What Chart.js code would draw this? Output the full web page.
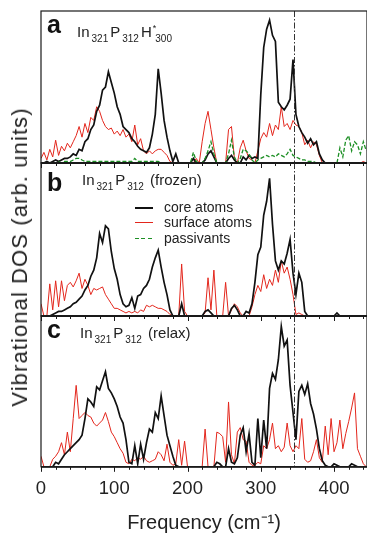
<!DOCTYPE html>
<html>
<head>
<meta charset="utf-8">
<title>Vibrational DOS</title>
<script src="https://cdn.jsdelivr.net/npm/chart.js@4.4.1/dist/chart.umd.min.js"></script>
<style>
  body { margin: 0; background: #fff; }
  #wrap { position: relative; width: 367px; height: 536px; overflow: hidden;
          font-family: "Liberation Sans", Arial, sans-serif; color: #222; }
  #wrap canvas { position: absolute; left: 0; top: 0; }
  .tag { position: absolute; font-size: 25px; font-weight: bold; line-height: 1; color: #111; }
  .ttl { position: absolute; font-size: 15px; line-height: 1; white-space: nowrap; }
  .ttl sub { font-size: 10px; vertical-align: -5px; margin: 0 2px 0 2px; }
  .ttl sup { font-size: 9px; vertical-align: 6px; margin-left: 1px; }
  .ttl sup + sub { margin-left: -1px; }
  .leg { position: absolute; left: 135px; font-size: 14px; line-height: 16px; white-space: nowrap; }
  .leg span { position: absolute; left: 0; top: 8px; width: 18px; }
  .leg b { font-weight: normal; margin-left: 29px; }
  #ytitle { position: absolute; left: 20px; top: 257px; font-size: 22px; letter-spacing: 1.1px;
            white-space: nowrap; transform: translate(-50%, -50%) rotate(-90deg); }
</style>
</head>
<body>
<div id="wrap">
  <canvas id="panelA" width="367" height="536"></canvas>
  <canvas id="panelB" width="367" height="536"></canvas>
  <canvas id="panelC" width="367" height="536"></canvas>

  <div class="tag" style="left:47px; top:12px">a</div>
  <div class="ttl" style="left:77px; top:24px">In<sub>321</sub>P<sub>312</sub>H<sup>*</sup><sub>300</sub></div>

  <div class="tag" style="left:47px; top:170px">b</div>
  <div class="ttl" style="left:82px; top:172px">In<sub>321</sub>P<sub>312</sub> (frozen)</div>
  <div class="leg" style="top:199px"><span style="height:2px; background:#111"></span><b>core atoms</b></div>
  <div class="leg" style="top:214px"><span style="height:1px; background:#e3261c"></span><b>surface atoms</b></div>
  <div class="leg" style="top:230px"><span style="height:1px; background:repeating-linear-gradient(90deg, #1d8f25 0 4px, transparent 4px 6.5px)"></span><b>passivants</b></div>

  <div class="tag" style="left:47px; top:317px">c</div>
  <div class="ttl" style="left:80px; top:325px">In<sub>321</sub>P<sub>312</sub> (relax)</div>

  <div id="ytitle">Vibrational DOS (arb. units)</div>
</div>

<script>
// frequency grid (cm-1)
const freq = [
  0, 4, 8, 12, 16, 20, 24, 28, 32, 36,
  40, 44, 48, 52, 56, 60, 64, 68, 72, 76,
  80, 84, 88, 92, 96, 100, 104, 108, 112, 116,
  120, 124, 128, 132, 136, 140, 144, 148, 152, 156,
  160, 164, 168, 172, 176, 180, 184, 188, 192, 196,
  200, 204, 208, 212, 216, 220, 224, 228, 232, 236,
  240, 244, 248, 252, 256, 260, 264, 268, 272, 276,
  280, 284, 288, 292, 296, 300, 304, 308, 312, 316,
  320, 324, 328, 332, 336, 340, 344, 348, 352, 356,
  360, 364, 368, 372, 376, 380, 384, 388, 392, 396,
  400, 404, 408, 412, 416, 420, 424, 428, 432, 436,
  440, 444
];

// panel a: In321P312H*300
const coreA = [
  0, 0, 1, 0, 1, 2, 1, 2, 3, 3,
  4, 6, 5, 9, 8, 14, 16, 22, 25, 34,
  38, 48, 50, 60, 53, 46, 37, 32, 24, 22,
  20, 16, 14, 11, 9, 8, 7, 10, 19, 32,
  62, 46, 28, 17, 8, 1, 6, 0, 0, 0,
  0, 0, 3, 0, 0, 0, 2, 6, 8, 4,
  0, 0, 0, 0, 3, 5, 2, 0, 0, 4,
  2, 5, 3, 4, 3, 45, 76, 88, 94, 84,
  80, 40, 37, 35, 38, 42, 68, 32, 24, 20,
  17, 13, 16, 12, 14, 6, 2, 0, 0, 0,
  0, 0, 0, 0, 0, 0, 0, 0, 0, 0,
  0, 0
];
const surfA = [
  3, 7, 2, 9, 4, 15, 5, 11, 8, 13,
  10, 14, 18, 24, 17, 26, 20, 30, 28, 37,
  34, 28, 24, 22, 23, 19, 21, 18, 22, 17,
  19, 14, 25, 12, 16, 8, 6, 8, 6, 8,
  9, 9, 7, 5, 1, 0, 0, 0, 0, 0,
  0, 0, 0, 3, 0, 14, 26, 34, 22, 10,
  0, 0, 0, 0, 22, 24, 3, 0, 10, 15,
  8, 3, 2, 0, 8, 16, 20, 17, 26, 18,
  25, 22, 37, 24, 26, 22, 28, 25, 24, 20,
  12, 15, 10, 14, 12, 5, 0, 0, 0, 0,
  0, 0, 0, 0, 0, 0, 0, 0, 0, 0,
  1, 0
];
const passA = [
  0, 0, 0, 0, 0, 0, 1, 0, 1, 1,
  1, 2, 3, 3, 2, 1, 1, 1, 1, 1,
  1, 1, 1, 1, 1, 1, 1, 1, 1, 1,
  1, 1, 3, 1, 1, 1, 1, 1, 1, 1,
  1, 0, 0, 0, 0, 0, 0, 0, 0, 0,
  0, 0, 7, 1, 0, 0, 3, 8, 14, 6,
  0, 0, 0, 0, 6, 15, 4, 0, 3, 9,
  8, 6, 2, 0, 2, 3, 4, 5, 4, 5,
  4, 6, 5, 4, 6, 9, 5, 4, 3, 2,
  2, 1, 1, 1, 0, 0, 0, 0, 0, 0,
  0, 0, 10, 4, 15, 18, 8, 14, 12, 6,
  14, 8
];

// panel b: In321P312 (frozen)
const coreB = [
  0, 0, 0, 0, 1, 2, 3, 3, 4, 5,
  6, 8, 9, 11, 13, 17, 20, 26, 30, 38,
  54, 48, 59, 57, 42, 31, 24, 14, 8, 6,
  7, 12, 5, 13, 14, 18, 20, 24, 32, 38,
  43, 32, 22, 14, 4, 0, 0, 0, 8, 0,
  0, 0, 0, 0, 0, 0, 3, 4, 2, 0,
  0, 0, 0, 0, 0, 5, 7, 4, 0, 0,
  3, 2, 8, 22, 40, 45, 66, 75, 90, 60,
  36, 30, 36, 34, 41, 50, 28, 14, 28, 22,
  3, 0, 0, 0, 0, 0, 0, 0, 0, 0,
  0, 2, 0, 0, 0, 0, 0, 0, 0, 0,
  0, 0
];
const surfB = [
  8, 0, 0, 21, 4, 23, 6, 23, 10, 20,
  22, 19, 23, 28, 18, 24, 20, 14, 18, 17,
  18, 19, 14, 11, 8, 5, 5, 4, 3, 2,
  3, 2, 3, 2, 4, 3, 7, 6, 7, 6,
  5, 5, 4, 3, 1, 0, 0, 0, 34, 3,
  0, 0, 0, 0, 0, 0, 2, 25, 4, 30,
  0, 0, 0, 22, 0, 4, 8, 6, 2, 0,
  0, 0, 6, 14, 20, 16, 27, 18, 24, 20,
  30, 22, 36, 28, 32, 24, 14, 1, 2, 1,
  0, 0, 0, 0, 0, 0, 0, 0, 0, 0,
  0, 0, 0, 0, 0, 0, 0, 0, 0, 0,
  0, 0
];

// panel c: In321P312 (relax)
const coreC = [
  0, 0, 0, 0, 0, 3, 2, 5, 8, 10,
  12, 14, 16, 18, 21, 32, 45, 43, 40, 53,
  51, 57, 63, 52, 49, 45, 40, 33, 29, 18,
  3, 2, 14, 2, 15, 5, 16, 25, 23, 36,
  32, 47, 34, 21, 14, 7, 1, 0, 0, 0,
  0, 0, 0, 0, 0, 0, 0, 0, 0, 0,
  3, 2, 0, 0, 12, 3, 2, 6, 21, 26,
  10, 22, 3, 1, 32, 6, 31, 12, 52, 62,
  58, 71, 93, 80, 84, 54, 36, 18, 50, 54,
  48, 55, 42, 35, 25, 12, 4, 1, 0, 0,
  2, 1, 0, 0, 0, 0, 2, 1, 0, 0,
  0, 0
];
const surfC = [
  7, 0, 0, 0, 5, 7, 10, 16, 8, 23,
  10, 32, 54, 32, 34, 36, 34, 33, 29, 27,
  29, 31, 36, 30, 23, 20, 16, 12, 9, 3,
  2, 5, 4, 6, 5, 7, 4, 3, 4, 5,
  10, 8, 4, 15, 3, 1, 2, 18, 1, 17,
  0, 0, 0, 0, 0, 0, 25, 0, 0, 0,
  23, 22, 20, 3, 43, 8, 2, 23, 26, 18,
  17, 3, 1, 1, 3, 2, 14, 12, 18, 29,
  12, 14, 10, 13, 29, 14, 10, 14, 12, 32,
  5, 3, 4, 10, 18, 6, 3, 27, 8, 32,
  10, 16, 31, 12, 22, 30, 39, 49, 12, 7,
  2, 0
];

const xTicks = [0, 100, 200, 300, 400];
const xMax = 445;
const markFreq = 345;   // dash-dot reference line

const FONT = '"Liberation Sans", Arial, sans-serif';
const BLACK = '#111111';
const RED = '#e3261c';
const GREEN = '#1d8f25';

// frame, minor ticks and the dash-dot marker, drawn from the x scale
const panelFrame = {
  id: 'panelFrame',
  afterDatasetsDraw(chart) {
    const { ctx, chartArea: a, scales: { x } } = chart;
    ctx.save();
    const mx = Math.round(x.getPixelForValue(markFreq)) + 0.5;
    ctx.strokeStyle = '#333';
    ctx.lineWidth = 1;
    ctx.setLineDash([6, 2, 1.5, 2]);
    ctx.beginPath();
    ctx.moveTo(mx, a.top);
    ctx.lineTo(mx, a.bottom);
    ctx.stroke();
    ctx.setLineDash([]);

    ctx.strokeStyle = '#1a1a1a';
    ctx.lineWidth = 1.2;
    ctx.strokeRect(a.left, a.top, a.width, a.height);
    ctx.lineWidth = 1.8;
    ctx.beginPath();
    ctx.moveTo(a.left, a.bottom);
    ctx.lineTo(a.right, a.bottom);
    ctx.stroke();

    ctx.lineWidth = 1;
    for (let v = 0; v <= x.max; v += 20) {
      const px = Math.round(x.getPixelForValue(v)) + 0.5;
      const len = v % 100 === 0 ? 5 : 3;
      ctx.beginPath();
      ctx.moveTo(px, a.bottom);
      ctx.lineTo(px, a.bottom + len);
      ctx.stroke();
    }
    ctx.restore();
  }
};

function series(label, vals, color, width, dash, order) {
  return {
    label: label,
    data: freq.map((f, i) => ({ x: f, y: vals[i] })),
    borderColor: color,
    borderWidth: width,
    borderDash: dash,
    pointRadius: 0,
    tension: 0,
    fill: false,
    order: order
  };
}

function panel(id, pad, sets, withAxis) {
  return new Chart(document.getElementById(id), {
    type: 'line',
    data: { datasets: sets },
    options: {
      responsive: false,
      animation: false,
      events: [],
      layout: { padding: pad },
      plugins: { legend: { display: false }, tooltip: { enabled: false } },
      scales: {
        x: {
          type: 'linear',
          min: 0,
          max: xMax,
          display: withAxis,
          grid: { display: false, drawTicks: false },
          border: { display: false },
          afterBuildTicks: s => { s.ticks = xTicks.map(v => ({ value: v })); },
          ticks: { color: '#222', padding: 11, font: { size: 18.5, family: FONT } },
          title: {
            display: true,
            text: 'Frequency (cm⁻¹)',
            color: '#222',
            font: { size: 20, family: FONT },
            padding: { top: 0, bottom: 1 }
          }
        },
        y: { min: 0, max: 100, display: false }
      }
    },
    plugins: [panelFrame]
  });
}

panel('panelA', { left: 41, right: 0, top: 11, bottom: 373 }, [
  series('passivants', passA, GREEN, 1.3, [4, 2], 0),
  series('core atoms', coreA, BLACK, 1.7, [], 1),
  series('surface atoms', surfA, RED, 1, [], 2)
], false);

panel('panelB', { left: 41, right: 0, top: 163, bottom: 220 }, [
  series('core atoms', coreB, BLACK, 1.7, [], 1),
  series('surface atoms', surfB, RED, 1, [], 2)
], false);

panel('panelC', { left: 41, right: 0, top: 316, bottom: 0 }, [
  series('core atoms', coreC, BLACK, 1.7, [], 1),
  series('surface atoms', surfC, RED, 1, [], 2)
], true);
</script>
</body>
</html>
